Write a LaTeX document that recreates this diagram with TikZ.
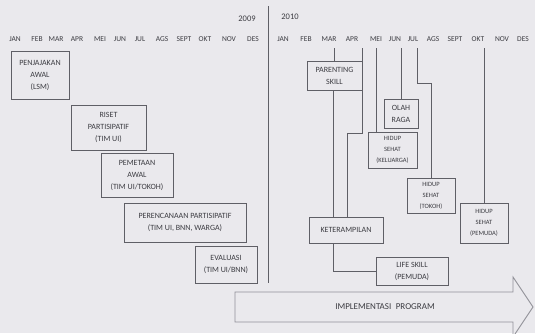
\documentclass[tikz,border=0pt]{standalone}
\usepackage{fontspec}
\setmainfont{Carlito}
\usetikzlibrary{positioning, calc}
\definecolor{paper}{RGB}{234,233,237}
\definecolor{ink}{RGB}{60,60,66}
\definecolor{rulegray}{RGB}{95,95,102}
\definecolor{arrowgray}{RGB}{145,145,152}

\begin{document}
\begin{tikzpicture}[x=1pt, y=-1pt,
  box/.style={rectangle,draw=rulegray,line width=1pt,align=center,inner sep=1pt,text=ink,font=\fontsize{8}{12}\selectfont},
  smallbox/.style={box,font=\fontsize{6.5}{11}\selectfont},
  month/.style={inner sep=1pt,minimum height=18pt,text=ink,font=\fontsize{7.5}{8}\selectfont},
  year/.style={inner sep=1pt,text=ink,font=\fontsize{8.5}{9}\selectfont},
  link/.style={draw=rulegray,line width=0.8pt},
  bigarrow/.style={draw=arrowgray,line width=0.9pt}
]
  \fill[paper] (0,0) rectangle (535,333);
  \useasboundingbox (0,0) rectangle (535,333);

  % years and months
  \node[year](y09) at (247,19) {2009};
  \node[year](y10) at (290,17) {2010};
  \foreach \m/\x [count=\i] in {JAN/15,FEB/37,MAR/56,APR/77,MEI/100,JUN/120,JUL/140,AGS/162,SEPT/184,OKT/205,NOV/229,DES/253}
    \node[month](m09-\i) at (\x,39) {\m};
  \foreach \m/\x [count=\i] in {JAN/283,FEB/306,MAR/329,APR/352,MEI/376,JUN/395,JUL/413,AGS/433,SEPT/455,OKT/478,NOV/502,DES/523}
    \node[month](m10-\i) at (\x,39) {\m};
  \coordinate (divtop) at (268,6);
  \coordinate (divbot) at (268,283);
  \draw[link] (divtop) -- (divbot);

  % 2009
  \node[box, minimum width=58pt, minimum height=48pt](penj)  at (40,75)      {PENJAJAKAN\\AWAL\\(LSM)};
  \node[box, minimum width=75pt, minimum height=45pt](riset) at (108.5,127.5) {RISET\\PARTISIPATIF\\(TIM UI)};
  \node[box, minimum width=72pt, minimum height=44pt](pemet) at (137,175)     {PEMETAAN\\AWAL\\(TIM UI/TOKOH)};
  \node[box, minimum width=122pt, minimum height=39pt](renc) at (185,222.5)   {PERENCANAAN PARTISIPATIF\\(TIM UI, BNN, WARGA)};
  \node[box, minimum width=62pt, minimum height=37pt](eval)  at (226,264.5)   {EVALUASI\\(TIM UI/BNN)};

  % 2010
  \node[box, minimum width=55pt, minimum height=29pt](parent) at (334.5,75.5) {PARENTING\\SKILL};
  \node[box, minimum width=34pt, minimum height=29pt](olah)   at (401,113.5)  {OLAH\\RAGA};
  \node[smallbox, minimum width=49pt, minimum height=36pt](kel)    at (392.5,150) {HIDUP\\SEHAT\\(KELUARGA)};
  \node[smallbox, minimum width=48pt, minimum height=35pt](tokoh)  at (431,195.5) {HIDUP\\SEHAT\\(TOKOH)};
  \node[smallbox, minimum width=48pt, minimum height=40pt](pemuda) at (484,223)   {HIDUP\\SEHAT\\(PEMUDA)};
  \node[box, minimum width=74pt, minimum height=26pt](keter)  at (346,230)    {KETERAMPILAN};
  \node[box, minimum width=72pt, minimum height=28pt](life)   at (412,271)    {LIFE SKILL\\(PEMUDA)};

  \draw[link] (parent.north) -- (parent.north |- m10-3.south);
  \draw[link] (parent.east |- m10-4.south) -- ++(0,85) -| ([xshift=1pt]keter.north);
  \draw[link] ([xshift=-1.5pt]parent.south) -- ([xshift=-1.5pt]parent.south |- keter.north);
  \draw[link] (m10-5.south) -- (m10-5.south |- kel.north);
  \draw[link] (olah.north) -- (olah.north |- m10-6.south);
  \draw[link] (kel.east |- m10-7.south) -- ++(0,35) -| (tokoh.north);
  \draw[link] (pemuda.north) -- (pemuda.north |- m10-10.south);
  \draw[link] ([xshift=-13pt]keter.south) |- (life.west);

  % implementation arrow
  \draw[bigarrow] (235,292) -- (513,292) -- (513,277) -- (533,307) -- (513,337) -- (513,322) -- (235,322) -- cycle;
  \node[year, font=\fontsize{9}{10}\selectfont](impl) at (385,307) {IMPLEMENTASI\enspace PROGRAM};
\end{tikzpicture}
\end{document}
